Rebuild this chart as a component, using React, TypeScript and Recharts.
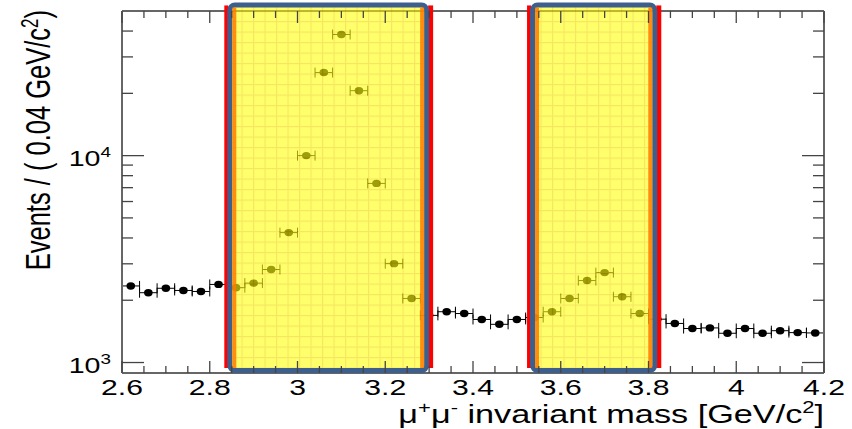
import React from 'react';
import { ComposedChart, Scatter, XAxis, YAxis, ErrorBar, ReferenceArea } from 'recharts';

// ---- data ----
const massBins = [
  2.62, 2.66, 2.70, 2.74, 2.78, 2.82, 2.86, 2.90, 2.94, 2.98,
  3.02, 3.06, 3.10, 3.14, 3.18, 3.22, 3.26, 3.30, 3.34, 3.38,
  3.42, 3.46, 3.50, 3.54, 3.58, 3.62, 3.66, 3.70, 3.74, 3.78,
  3.82, 3.86, 3.90, 3.94, 3.98, 4.02, 4.06, 4.10, 4.14, 4.18,
];
const eventCounts = [
  2345, 2175, 2285, 2230, 2205, 2385, 2300, 2420, 2815, 4245,
  10000, 25200, 38500, 20600, 7340, 3005, 2040, 1690, 1760, 1725,
  1615, 1530, 1615, 1650, 1760, 2040, 2490, 2720, 2080, 1725,
  1620, 1545, 1460, 1470, 1385, 1460, 1385, 1425, 1395, 1390,
];
const binHalfWidth = 0.02;

const windowStart = [2.84, 3.53];
const windowEnd = [3.30, 3.82];

const xMajorTicks = [2.6, 2.8, 3.0, 3.2, 3.4, 3.6, 3.8, 4.0, 4.2];
const xMajorLabels = ['2.6', '2.8', '3', '3.2', '3.4', '3.6', '3.8', '4', '4.2'];
const xMinorTicks = [
  2.65, 2.7, 2.75, 2.85, 2.9, 2.95, 3.05, 3.1, 3.15, 3.25, 3.3, 3.35,
  3.45, 3.5, 3.55, 3.65, 3.7, 3.75, 3.85, 3.9, 3.95, 4.05, 4.1, 4.15,
];
const yMajorTicks = [1000, 10000];
const yMajorExponents = ['3', '4'];
const yMinorTicks = [2000, 3000, 4000, 5000, 6000, 7000, 8000, 9000, 20000, 30000, 40000];

const xDomain = [2.6, 4.2];
const yDomain = [890, 50000];
const windowTop = 55000;

// ---- styling ----
const FONT = "'Liberation Sans', Arial, Helvetica, sans-serif";
const SX = 1.37;
const FRAME = '#666';
const TICK = '#444';

const points = massBins.map((m, i) => ({ mass: m, events: eventCounts[i], ex: binHalfWidth }));
const xTicks = [...xMajorTicks, ...xMinorTicks].sort((a, b) => a - b);
const yTicks = [...yMajorTicks, ...yMinorTicks].sort((a, b) => a - b);

const majorIndexX = (v: number) => xMajorTicks.findIndex((t) => Math.abs(t - v) < 1e-6);
const majorIndexY = (v: number) => yMajorTicks.findIndex((t) => Math.abs(t - v) < 1e-6);

const BottomTick = (p: any) => {
  const { x, y, payload } = p;
  const idx = majorIndexX(payload.value);
  const len = idx >= 0 ? 12 : 7;
  return (
    <g>
      <line x1={x} x2={x} y1={y} y2={y - len} stroke={TICK} strokeWidth={1.3} />
      {idx >= 0 && (
        <text
          transform={`translate(${x},${y + 22}) scale(${SX},1)`}
          textAnchor="middle"
          fontSize={22}
          fontFamily={FONT}
          fill="#000"
        >
          {xMajorLabels[idx]}
        </text>
      )}
    </g>
  );
};

const TopTick = (p: any) => {
  const { x, y, payload } = p;
  const idx = majorIndexX(payload.value);
  const len = idx >= 0 ? 12 : 7;
  return <line x1={x} x2={x} y1={y} y2={y + len} stroke={TICK} strokeWidth={1.3} />;
};

const LeftTick = (p: any) => {
  const { x, y, payload } = p;
  const idx = majorIndexY(payload.value);
  const len = idx >= 0 ? 22 : 11;
  return (
    <g>
      <line x1={x} x2={x + len} y1={y} y2={y} stroke={TICK} strokeWidth={1.3} />
      {idx >= 0 && (
        <text
          transform={`translate(${x - 11},${y + 10}) scale(1.3,1)`}
          textAnchor="end"
          fontSize={22}
          fontFamily={FONT}
          fill="#000"
        >
          10
          <tspan dy={-9} fontSize={14.5}>
            {yMajorExponents[idx]}
          </tspan>
        </text>
      )}
    </g>
  );
};

const RightTick = (p: any) => {
  const { x, y, payload } = p;
  const idx = majorIndexY(payload.value);
  const len = idx >= 0 ? 22 : 11;
  return <line x1={x} x2={x - len} y1={y} y2={y} stroke={TICK} strokeWidth={1.3} />;
};

const YTitle = (p: any) => {
  const vb = p.viewBox || { x: 0, y: 11 };
  return (
    <text
      transform={`translate(${vb.x + 50},${vb.y - 1}) scale(${SX},1) rotate(-90)`}
      textAnchor="end"
      fontSize={25.5}
      fontFamily={FONT}
      fill="#000"
    >
      Events / ( 0.04 GeV/c
      <tspan dy={-9} fontSize={17}>2</tspan>
      <tspan dy={9}>)</tspan>
    </text>
  );
};

const XTitle = (p: any) => {
  const vb = p.viewBox || { x: 122, y: 373, width: 702 };
  return (
    <text
      transform={`translate(${vb.x + vb.width},${vb.y + 50}) scale(${SX},1)`}
      textAnchor="end"
      fontSize={25}
      fontFamily={FONT}
      fill="#000"
    >
      μ<tspan dy={-10} fontSize={16}>+</tspan>
      <tspan dy={10}>μ</tspan>
      <tspan dy={-10} fontSize={16}>-</tspan>
      <tspan dy={10}> invariant mass [GeV/c</tspan>
      <tspan dy={-10} fontSize={16}>2</tspan>
      <tspan dy={10}>]</tspan>
    </text>
  );
};

const SignalWindow = (p: any) => {
  const { x, y, width, height } = p;
  return (
    <g>
      <defs>
        <pattern id="ygrid" width="11.5" height="10.5" patternUnits="userSpaceOnUse">
          <rect width="11.5" height="10.5" fill="#ffff10" />
          <path d="M0 0.5 H11.5 M0.5 0 V10.5" stroke="#f0d800" strokeWidth={1.3} />
        </pattern>
      </defs>
      <rect x={x - 3} y={y + 3} width={4} height={height - 8} fill="#ff0000" />
      <rect x={x + width - 1} y={y + 3} width={5} height={height - 8} fill="#ff0000" />
      <rect
        x={x + 2.5}
        y={y + 2.5}
        width={width - 5}
        height={height - 5}
        rx={5}
        fill="url(#ygrid)"
        fillOpacity={0.62}
        stroke="#3d5f8e"
        strokeWidth={5}
      />
      <rect x={x + 5} y={y + 5} width={4} height={height - 10} fill="#ff7a00" fillOpacity={0.85} />
      <rect x={x + width - 9} y={y + 5} width={4} height={height - 10} fill="#ff7a00" fillOpacity={0.85} />
    </g>
  );
};

const Dot = (p: any) => {
  const { cx, cy } = p;
  if (cx == null || cy == null) return null;
  return <ellipse cx={cx} cy={cy} rx={4.3} ry={3.7} fill="#000" />;
};

export default function App() {
  return (
    <div style={{ position: 'absolute', left: 0, top: 0, background: '#fff' }}>
      <ComposedChart
        width={852}
        height={429}
        data={points}
        margin={{ top: 10, right: 27, bottom: 0, left: 0 }}
      >
        <XAxis
          xAxisId="b"
          dataKey="mass"
          type="number"
          domain={xDomain}
          allowDataOverflow
          ticks={xTicks}
          interval={0}
          tickSize={0}
          tickMargin={0}
          tickLine={false}
          tick={(p: any) => <BottomTick {...p} />}
          axisLine={{ stroke: FRAME, strokeWidth: 2 }}
          height={56}
          label={<XTitle />}
        />
        <XAxis
          xAxisId="t"
          dataKey="mass"
          orientation="top"
          type="number"
          domain={xDomain}
          allowDataOverflow
          ticks={xTicks}
          interval={0}
          tickSize={0}
          tickMargin={0}
          tickLine={false}
          tick={(p: any) => <TopTick {...p} />}
          axisLine={{ stroke: FRAME, strokeWidth: 2 }}
          height={1}
        />
        <YAxis
          yAxisId="l"
          dataKey="events"
          type="number"
          scale="log"
          domain={yDomain}
          allowDataOverflow
          ticks={yTicks}
          interval={0}
          tickSize={0}
          tickMargin={0}
          tickLine={false}
          tick={(p: any) => <LeftTick {...p} />}
          axisLine={{ stroke: FRAME, strokeWidth: 2 }}
          width={122}
          label={<YTitle />}
        />
        <YAxis
          yAxisId="r"
          dataKey="events"
          orientation="right"
          type="number"
          scale="log"
          domain={yDomain}
          allowDataOverflow
          ticks={yTicks}
          interval={0}
          tickSize={0}
          tickMargin={0}
          tickLine={false}
          tick={(p: any) => <RightTick {...p} />}
          axisLine={{ stroke: FRAME, strokeWidth: 2 }}
          width={1}
        />
        <Scatter
          xAxisId="b"
          yAxisId="l"
          data={points}
          dataKey="events"
          shape={(p: any) => <Dot {...p} />}
          isAnimationActive={false}
        >
          <ErrorBar dataKey="ex" direction="x" width={5} stroke="#000" strokeWidth={1} />
        </Scatter>
        <Scatter
          xAxisId="t"
          yAxisId="r"
          data={points}
          dataKey="events"
          shape={() => null}
          isAnimationActive={false}
        />
        {windowStart.map((s, i) => (
          <ReferenceArea
            key={i}
            xAxisId="b"
            yAxisId="l"
            x1={s}
            x2={windowEnd[i]}
            y1={yDomain[0]}
            y2={windowTop}
            ifOverflow="visible"
            zIndex={1500}
            shape={(p: any) => <SignalWindow {...p} />}
          />
        ))}
      </ComposedChart>
    </div>
  );
}
